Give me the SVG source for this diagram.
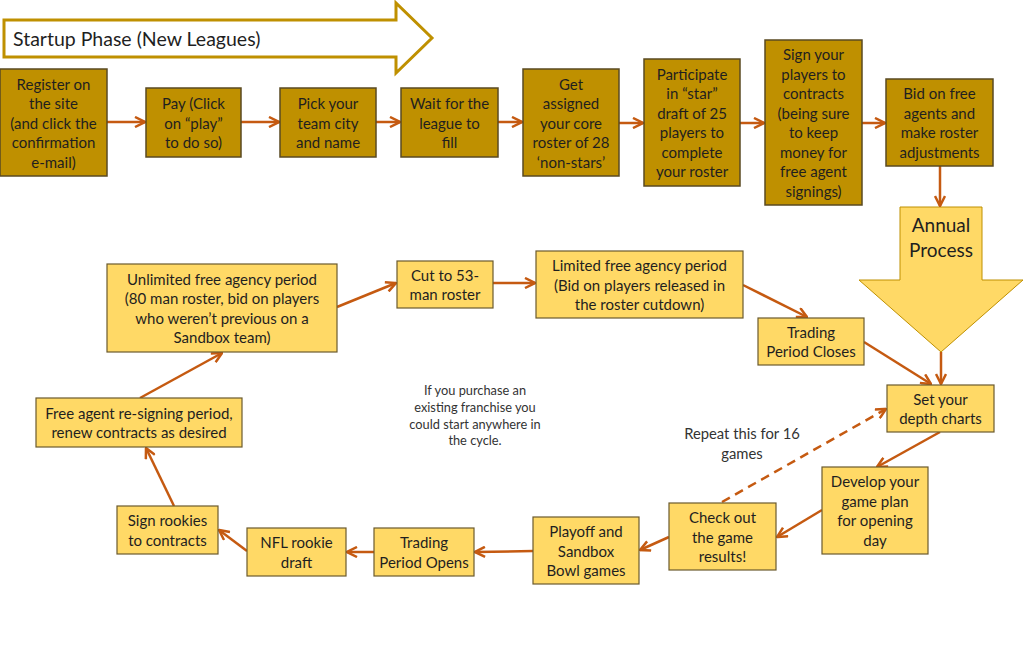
<svg xmlns="http://www.w3.org/2000/svg" width="1024" height="649" viewBox="0 0 1024 649">
<defs>
<style>
.dk{fill:#BF9000;stroke:#5A4A22;stroke-width:1.5}
.lt{fill:#FFD966;stroke:#6B5A2E;stroke-width:1.2}
text{font-family:Lato,"Open Sans","Liberation Sans",sans-serif;fill:#1F1F1F;text-anchor:middle;dominant-baseline:central}
.t{font-size:15px}
.note{font-size:12.8px;fill:#333}
.rep{font-size:14.8px;fill:#333}
.big{font-size:19px}
.c{fill:none;stroke:#C55A11;stroke-width:2.5;marker-end:url(#ah)}
.d{stroke-dasharray:9 6}
</style>
<marker id="ah" viewBox="0 0 12 12" refX="11" refY="6" markerWidth="12" markerHeight="12" markerUnits="userSpaceOnUse" orient="auto">
<path d="M1,1 L11,6 L1,11" fill="none" stroke="#C55A11" stroke-width="2.5"/>
</marker>
</defs>
<rect width="1024" height="649" fill="#fff"/>

<g id="startup">
<path d="M4,20 L396,20 L396,3 L432,38 L396,73 L396,57 L4,57 Z" fill="#fff" stroke="#BF9000" stroke-width="3"/>
<text x="13" y="38" style="font-size:19.5px;text-anchor:start">Startup Phase (New Leagues)</text>
</g>

<g id="annual">
<path d="M900,207 L982,207 L982,280 L1023,280 L941,352 L859,280 L900,280 Z" fill="#FFD966" stroke="#BF9000" stroke-width="1"/>
<text class="big" x="941" y="224">Annual</text>
<text class="big" x="941" y="249">Process</text>
</g>

<g id="connectors">
<line class="c" x1="107" y1="122" x2="145" y2="122"/>
<line class="c" x1="241" y1="122" x2="279" y2="122"/>
<line class="c" x1="376" y1="122" x2="400" y2="122"/>
<line class="c" x1="498" y1="122" x2="522" y2="122"/>
<line class="c" x1="619" y1="123" x2="643" y2="123"/>
<line class="c" x1="740" y1="123" x2="764" y2="123"/>
<line class="c" x1="862" y1="123" x2="885" y2="123"/>
<line class="c" x1="940" y1="166" x2="940" y2="206"/>
<line class="c" x1="941" y1="352" x2="941" y2="384"/>
<line class="c" x1="864" y1="342" x2="931" y2="384"/>
<line class="c" x1="940" y1="432" x2="877" y2="467"/>
<line class="c" x1="822" y1="510" x2="777" y2="537"/>
<line class="c" x1="669" y1="537" x2="640" y2="550"/>
<line class="c" x1="533" y1="551" x2="475" y2="552"/>
<line class="c" x1="374" y1="552" x2="347" y2="552"/>
<line class="c" x1="247" y1="551" x2="219" y2="530"/>
<line class="c" x1="174" y1="506" x2="146" y2="448"/>
<line class="c" x1="140" y1="398" x2="222" y2="353"/>
<line class="c" x1="337" y1="307" x2="396" y2="283"/>
<line class="c" x1="493" y1="283" x2="535" y2="283"/>
<line class="c" x1="743" y1="285" x2="807" y2="317"/>
<line class="c d" x1="722" y1="502" x2="886" y2="409"/>
</g>

<g id="n1"><rect class="dk" x="0" y="69" width="107" height="107"/>
<text class="t" x="53.5" y="83.5">Register on</text><text class="t" x="53.5" y="103">the site</text><text class="t" x="53.5" y="122.5">(and click the</text><text class="t" x="53.5" y="142">confirmation</text><text class="t" x="53.5" y="161.5">e-mail)</text></g>

<g id="n2"><rect class="dk" x="146" y="88" width="95" height="69"/>
<text class="t" x="193.5" y="103">Pay (Click</text><text class="t" x="193.5" y="122.5">on “play”</text><text class="t" x="193.5" y="142">to do so)</text></g>

<g id="n3"><rect class="dk" x="280" y="88" width="96" height="69"/>
<text class="t" x="328" y="103">Pick your</text><text class="t" x="328" y="122.5">team city</text><text class="t" x="328" y="142">and name</text></g>

<g id="n4"><rect class="dk" x="401" y="88" width="97" height="69"/>
<text class="t" x="449.5" y="103">Wait for the</text><text class="t" x="449.5" y="122.5">league to</text><text class="t" x="449.5" y="142">fill</text></g>

<g id="n5"><rect class="dk" x="523" y="69" width="96" height="107"/>
<text class="t" x="571" y="83.5">Get</text><text class="t" x="571" y="103">assigned</text><text class="t" x="571" y="122.5">your core</text><text class="t" x="571" y="142">roster of 28</text><text class="t" x="571" y="161.5">‘non-stars’</text></g>

<g id="n6"><rect class="dk" x="644" y="59" width="96" height="127"/>
<text class="t" x="692" y="73.75">Participate</text><text class="t" x="692" y="93.25">in “star”</text><text class="t" x="692" y="112.75">draft of 25</text><text class="t" x="692" y="132.25">players to</text><text class="t" x="692" y="151.75">complete</text><text class="t" x="692" y="171.25">your roster</text></g>

<g id="n7"><rect class="dk" x="765" y="40" width="97" height="165"/>
<text class="t" x="813.5" y="54.25">Sign your</text><text class="t" x="813.5" y="73.75">players to</text><text class="t" x="813.5" y="93.25">contracts</text><text class="t" x="813.5" y="112.75">(being sure</text><text class="t" x="813.5" y="132.25">to keep</text><text class="t" x="813.5" y="151.75">money for</text><text class="t" x="813.5" y="171.25">free agent</text><text class="t" x="813.5" y="190.75">signings)</text></g>

<g id="n8"><rect class="dk" x="886" y="79" width="107" height="87"/>
<text class="t" x="939.5" y="93.25">Bid on free</text><text class="t" x="939.5" y="112.75">agents and</text><text class="t" x="939.5" y="132.25">make roster</text><text class="t" x="939.5" y="151.75">adjustments</text></g>

<g id="unlimited"><rect class="lt" x="107" y="264" width="230" height="88"/>
<text class="t" x="222" y="278.75">Unlimited free agency period</text><text class="t" x="222" y="298.25">(80 man roster, bid on players</text><text class="t" x="222" y="317.75">who weren’t previous on a</text><text class="t" x="222" y="337.25">Sandbox team)</text></g>

<g id="cut"><rect class="lt" x="397" y="261" width="96" height="47"/>
<text class="t" x="445" y="274.75">Cut to 53-</text><text class="t" x="445" y="294.25">man roster</text></g>

<g id="limited"><rect class="lt" x="536" y="251" width="207" height="67"/>
<text class="t" x="639.5" y="265">Limited free agency period</text><text class="t" x="639.5" y="284.5">(Bid on players released in</text><text class="t" x="639.5" y="304">the roster cutdown)</text></g>

<g id="closes"><rect class="lt" x="758" y="318" width="106" height="47"/>
<text class="t" x="811" y="331.75">Trading</text><text class="t" x="811" y="351.25">Period Closes</text></g>

<g id="depth"><rect class="lt" x="887" y="385" width="107" height="47"/>
<text class="t" x="940.5" y="398.75">Set your</text><text class="t" x="940.5" y="418.25">depth charts</text></g>

<g id="develop"><rect class="lt" x="822" y="467" width="106" height="87"/>
<text class="t" x="875" y="481.25">Develop your</text><text class="t" x="875" y="500.75">game plan</text><text class="t" x="875" y="520.25">for opening</text><text class="t" x="875" y="539.75">day</text></g>

<g id="check"><rect class="lt" x="669" y="503" width="107" height="67"/>
<text class="t" x="722.5" y="517">Check out</text><text class="t" x="722.5" y="536.5">the game</text><text class="t" x="722.5" y="556">results!</text></g>

<g id="playoff"><rect class="lt" x="533" y="517" width="106" height="67"/>
<text class="t" x="586" y="531">Playoff and</text><text class="t" x="586" y="550.5">Sandbox</text><text class="t" x="586" y="570">Bowl games</text></g>

<g id="opens"><rect class="lt" x="374" y="528" width="100" height="48"/>
<text class="t" x="424" y="542.25">Trading</text><text class="t" x="424" y="561.75">Period Opens</text></g>

<g id="nfl"><rect class="lt" x="247" y="528" width="99" height="48"/>
<text class="t" x="296.5" y="542.25">NFL rookie</text><text class="t" x="296.5" y="561.75">draft</text></g>

<g id="rookies"><rect class="lt" x="117" y="506" width="101" height="48"/>
<text class="t" x="167.5" y="520.25">Sign rookies</text><text class="t" x="167.5" y="539.75">to contracts</text></g>

<g id="resign"><rect class="lt" x="36" y="398" width="206" height="49"/>
<text class="t" x="139" y="412.75">Free agent re-signing period,</text><text class="t" x="139" y="432.25">renew contracts as desired</text></g>

<g id="notes">
<text class="note" x="475" y="390">If you purchase an</text>
<text class="note" x="475" y="407">existing franchise you</text>
<text class="note" x="475" y="423.5">could start anywhere in</text>
<text class="note" x="475" y="440">the cycle.</text>
<text class="rep" x="742" y="433">Repeat this for 16</text>
<text class="rep" x="742" y="453">games</text>
</g>
</svg>
